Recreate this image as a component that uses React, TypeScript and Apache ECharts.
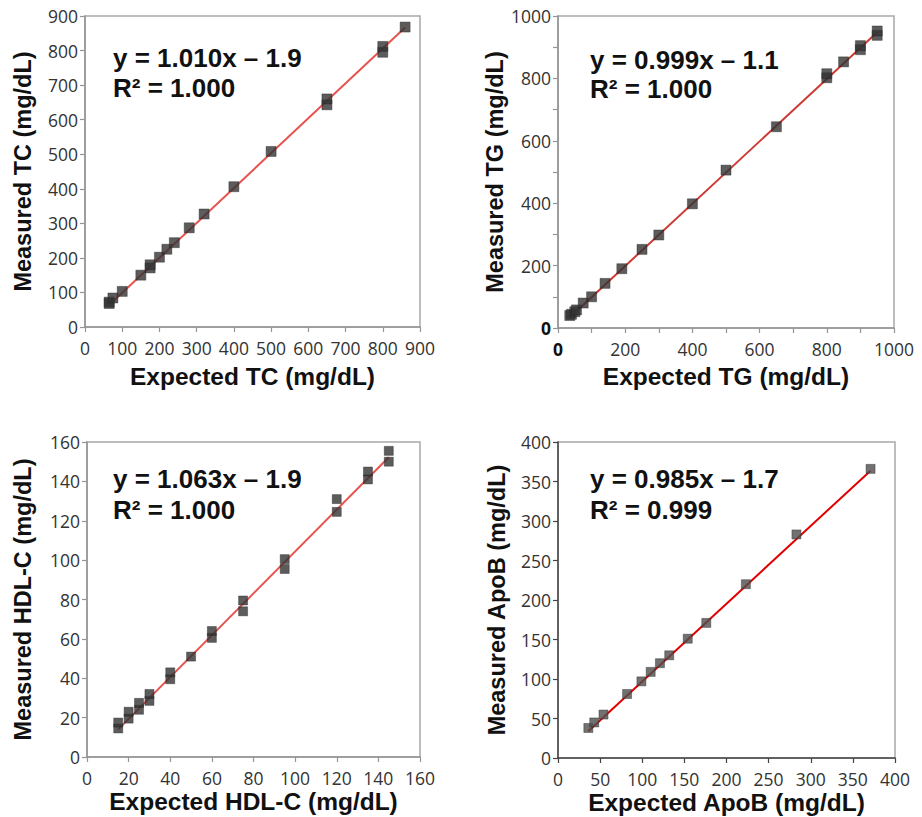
import React, { useEffect, useRef } from "react";
import * as echarts from "echarts";

// ---- Data ----
const tcExpected = [65, 65, 75, 100, 150, 175, 175, 200, 220, 240, 280, 320, 400, 500, 650, 650, 800, 800, 860];
const tcMeasured = [68, 72, 84, 103, 150, 171, 180, 202, 225, 244, 287, 327, 406, 508, 643, 660, 795, 812, 868];

const tgExpected = [35, 40, 50, 55, 75, 100, 140, 190, 250, 300, 400, 500, 650, 800, 800, 850, 900, 900, 950, 950];
const tgMeasured = [40, 44, 52, 58, 80, 100, 143, 190, 252, 298, 398, 506, 645, 802, 815, 853, 892, 905, 938, 952];

const hdlExpected = [15, 15, 20, 20, 25, 25, 30, 30, 40, 40, 50, 60, 60, 75, 75, 95, 95, 120, 120, 135, 135, 145, 145];
const hdlMeasured = [14.5, 17.5, 19.5, 23, 24, 27.5, 28.5, 32, 39.5, 43, 51, 60.5, 64, 74, 79.5, 95.5, 100.5, 124.5, 131, 141, 145, 150, 155.5];

const apobExpected = [36, 43, 54, 82, 99, 110, 121, 132, 154, 176, 223, 283, 371];
const apobMeasured = [38, 45, 55, 81, 97, 109, 120, 130, 151, 171, 220, 283, 366];

const slopes = [1.01, 0.999, 1.063, 0.985];
const intercepts = [-1.9, -1.1, -1.9, -1.7];
const eqLines = ["y = 1.010x \u2013 1.9", "y = 0.999x \u2013 1.1", "y = 1.063x \u2013 1.9", "y = 0.985x \u2013 1.7"];
const r2Lines = ["R\u00B2 = 1.000", "R\u00B2 = 1.000", "R\u00B2 = 1.000", "R\u00B2 = 0.999"];

const xNames = ["Expected TC (mg/dL)", "Expected TG (mg/dL)", "Expected HDL-C (mg/dL)", "Expected ApoB (mg/dL)"];
const yNames = ["Measured TC (mg/dL)", "Measured TG (mg/dL)", "Measured HDL-C (mg/dL)", "Measured ApoB (mg/dL)"];
const axisMax = [900, 1000, 160, 400];
const axisStep = [100, 100, 20, 50];

const expectedSets = [tcExpected, tgExpected, hdlExpected, apobExpected];
const measuredSets = [tcMeasured, tgMeasured, hdlMeasured, apobMeasured];

// ---- Layout / style ----
const grids = [
  { left: 85, top: 16, width: 335, height: 311 },
  { left: 558, top: 16, width: 336, height: 312 },
  { left: 87, top: 442, width: 333, height: 315 },
  { left: 558, top: 442, width: 337, height: 316 },
];
const xNameGaps = [37, 36, 32, 32];
const yNameGaps = [50, 51, 52, 49];
const lineColors = ["#e8534f", "#cc3a36", "#e8534f", "#e00000"];
const markerColors = ["#333333", "#333333", "#333333", "#4d4d4d"];
const markerSizes = [10, 10, 9, 9];
const eqPos = [
  { x: 113, y1: 58, y2: 88 },
  { x: 590, y1: 60, y2: 89 },
  { x: 113, y1: 479, y2: 510 },
  { x: 590, y1: 479, y2: 510 },
];

const LABEL_FONT = "'Open Sans', 'DejaVu Sans', sans-serif";
const BOLD_FONT = "'Liberation Sans', Arial, sans-serif";

export default function App() {
  const ref = useRef<HTMLDivElement>(null);

  useEffect(() => {
    document.body.style.margin = "0";
    if (!ref.current) return;
    const chart = echarts.init(ref.current, undefined, { renderer: "svg" });

    const xAxes: any[] = [];
    const yAxes: any[] = [];
    const series: any[] = [];
    const graphics: any[] = [];

    for (let i = 0; i < 4; i++) {
      const isTG = i === 1;
      const fmt = (v: number) => {
        if (isTG) {
          if (v === 0) return "{b|0}";
          return v % 200 === 0 ? String(v) : "";
        }
        return String(v);
      };
      const axisLabel = {
        fontFamily: LABEL_FONT,
        fontSize: 17.5,
        color: "#333333",
        formatter: fmt,
        rich: { b: { fontFamily: LABEL_FONT, fontSize: 17.5, fontWeight: "bold", color: "#111" } },
      };
      const axColor = i === 3 ? "#444" : "#959595";
      const axisLine = { show: true, lineStyle: { color: axColor, width: 1.5 } };
      const axisTick = { show: true, length: 5, lineStyle: { color: axColor, width: 1.2 } };
      const nameTextStyle = { fontFamily: BOLD_FONT, fontWeight: "bold", fontSize: 24.5, color: "#111" };

      xAxes.push({
        gridIndex: i,
        type: "value",
        min: 0,
        max: axisMax[i],
        interval: axisStep[i],
        axisLine,
        axisTick,
        splitLine: { show: false },
        axisLabel: { ...axisLabel, margin: 12 },
        name: xNames[i],
        nameLocation: "middle",
        nameGap: xNameGaps[i],
        nameTextStyle,
      });
      yAxes.push({
        gridIndex: i,
        type: "value",
        min: 0,
        max: axisMax[i],
        interval: axisStep[i],
        axisLine,
        axisTick,
        splitLine: { show: false },
        axisLabel: { ...axisLabel, margin: 7 },
        name: yNames[i],
        nameLocation: "middle",
        nameGap: yNameGaps[i],
        nameTextStyle: { ...nameTextStyle, fontSize: 23.5 },
      });

      const xs = expectedSets[i];
      const ys = measuredSets[i];
      const xMin = Math.min(...xs);
      const xMax = Math.max(...xs);
      series.push({
        type: "line",
        xAxisIndex: i,
        yAxisIndex: i,
        data: [
          [xMin, slopes[i] * xMin + intercepts[i]],
          [xMax, slopes[i] * xMax + intercepts[i]],
        ],
        showSymbol: false,
        symbol: "none",
        lineStyle: { color: lineColors[i], width: 2 },
        z: 1,
        silent: true,
      });
      series.push({
        type: "scatter",
        xAxisIndex: i,
        yAxisIndex: i,
        data: xs.map((x, k) => [x, ys[k]]),
        symbol: "rect",
        symbolSize: markerSizes[i],
        itemStyle: { color: markerColors[i], borderColor: "#222", borderWidth: 0.5 },
        z: 2,
      });

      const p = eqPos[i];
      graphics.push({
        type: "text",
        x: p.x,
        y: p.y1,
        style: { text: eqLines[i], font: `bold 26px ${BOLD_FONT}`, fill: "#111", verticalAlign: "middle", align: "left" },
      });
      graphics.push({
        type: "text",
        x: p.x,
        y: p.y2,
        style: { text: r2Lines[i], font: `bold 26px ${BOLD_FONT}`, fill: "#111", verticalAlign: "middle", align: "left" },
      });
    }

    chart.setOption({
      animation: false,
      backgroundColor: "#ffffff",
      grid: grids.map((g) => ({ ...g, show: true, borderColor: "#a8a8a8", borderWidth: 1.5, backgroundColor: "transparent" })),
      xAxis: xAxes,
      yAxis: yAxes,
      series,
      graphic: graphics,
    });

    return () => chart.dispose();
  }, []);

  return <div ref={ref} style={{ width: 922, height: 817 }} />;
}
